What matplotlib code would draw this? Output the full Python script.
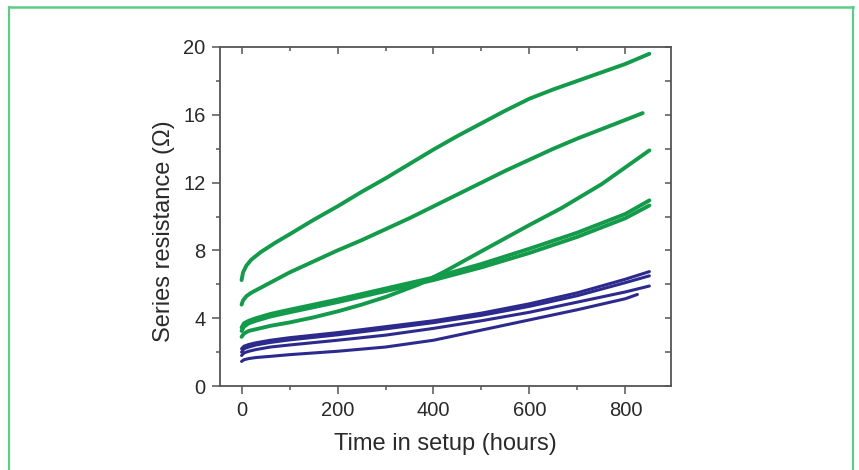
import matplotlib
matplotlib.use("Agg")
import matplotlib.pyplot as plt
from matplotlib.lines import Line2D
from matplotlib.ticker import MultipleLocator

plt.rcParams['font.family'] = ['Liberation Sans', 'DejaVu Sans']

# green curves
t_g1 = [0, 3, 10, 20, 40, 70, 100, 150, 200, 250, 300, 350, 400, 450, 500, 550, 600, 650, 700, 750, 800, 850]
r_g1 = [6.25, 6.7, 7.1, 7.45, 7.9, 8.45, 8.95, 9.8, 10.6, 11.45, 12.25, 13.1, 13.95, 14.75, 15.5, 16.25, 16.95, 17.5, 18.0, 18.5, 19.0, 19.6]

t_g2 = [0, 3, 10, 20, 40, 70, 100, 150, 200, 250, 300, 350, 400, 450, 500, 550, 600, 650, 700, 750, 800, 836]
r_g2 = [4.8, 5.05, 5.3, 5.5, 5.8, 6.25, 6.7, 7.35, 8.0, 8.6, 9.25, 9.9, 10.6, 11.3, 12.0, 12.7, 13.35, 14.0, 14.6, 15.15, 15.7, 16.1]

t_g3 = [0, 5, 15, 30, 60, 100, 150, 200, 250, 300, 370, 423, 500, 600, 667, 750, 850]
r_g3 = [2.9, 3.1, 3.25, 3.35, 3.55, 3.75, 4.05, 4.4, 4.8, 5.25, 6.0, 6.75, 7.95, 9.5, 10.5, 11.9, 13.9]

t_band = [0, 5, 15, 30, 60, 100, 150, 200, 300, 400, 500, 600, 700, 800, 850]
r_g4a = [3.45, 3.7, 3.85, 4.0, 4.25, 4.5, 4.8, 5.1, 5.75, 6.4, 7.2, 8.1, 9.05, 10.15, 10.95]
r_g4b = [3.25, 3.5, 3.7, 3.85, 4.1, 4.35, 4.65, 4.95, 5.6, 6.25, 7.0, 7.85, 8.8, 9.9, 10.65]

# blue curves
t_b = [0, 5, 15, 30, 60, 100, 150, 200, 300, 400, 500, 600, 700, 800, 850]
r_b1 = [2.2, 2.35, 2.45, 2.55, 2.7, 2.85, 3.0, 3.15, 3.5, 3.85, 4.3, 4.85, 5.5, 6.3, 6.75]
r_b2 = [2.0, 2.2, 2.3, 2.42, 2.57, 2.72, 2.87, 3.02, 3.37, 3.74, 4.17, 4.7, 5.33, 6.1, 6.5]
r_b3 = [1.8, 1.95, 2.05, 2.15, 2.3, 2.42, 2.56, 2.7, 3.0, 3.4, 3.85, 4.35, 4.95, 5.55, 5.9]
t_b4 = [0, 5, 15, 30, 60, 100, 150, 200, 300, 400, 500, 600, 700, 800, 825]
r_b4 = [1.45, 1.55, 1.62, 1.68, 1.75, 1.85, 1.95, 2.05, 2.3, 2.7, 3.3, 3.9, 4.5, 5.15, 5.4]

green = '#139a4a'
blue = '#2d2a8e'
frame = '#555555'
txt = '#2a2a2a'

fig = plt.figure(figsize=(8.59, 4.70), dpi=100)
fig.patch.set_facecolor('white')
ax = fig.add_axes([0.2561, 0.1787, 0.525, 0.7213])

for t, r in [(t_g1, r_g1), (t_g2, r_g2), (t_g3, r_g3), (t_band, r_g4a), (t_band, r_g4b)]:
    ax.plot(t, r, color=green, lw=2.8, solid_capstyle='round', solid_joinstyle='round')
for t, r in [(t_b, r_b1), (t_b, r_b2), (t_b, r_b3), (t_b4, r_b4)]:
    ax.plot(t, r, color=blue, lw=2.2, solid_capstyle='round', solid_joinstyle='round')

ax.set_xlim(-45, 895)
ax.set_ylim(0, 20)
ax.xaxis.set_major_locator(MultipleLocator(200))
ax.xaxis.set_minor_locator(MultipleLocator(100))
ax.yaxis.set_major_locator(MultipleLocator(4))
ax.yaxis.set_minor_locator(MultipleLocator(2))

for s in ax.spines.values():
    s.set_color(frame)
    s.set_linewidth(1.3)

ax.tick_params(which='major', direction='out', length=6, width=1.1, color=frame,
               labelsize=14.5, labelcolor=txt, pad=4.5)
ax.tick_params(which='minor', direction='out', length=3, width=1.1, color=frame)

# mirrored ticks pointing inward on top and right
sx = ax.secondary_xaxis('top')
sx.xaxis.set_major_locator(MultipleLocator(200))
sx.xaxis.set_minor_locator(MultipleLocator(100))
sx.tick_params(which='major', direction='in', length=5, width=1.1, color=frame, labeltop=False)
sx.tick_params(which='minor', direction='in', length=3, width=1.1, color=frame)
sx.spines['top'].set_visible(False)
sy = ax.secondary_yaxis('right')
sy.yaxis.set_major_locator(MultipleLocator(4))
sy.yaxis.set_minor_locator(MultipleLocator(2))
sy.tick_params(which='major', direction='in', length=4, width=1.1, color=frame, labelright=False)
sy.tick_params(which='minor', direction='in', length=4, width=1.1, color=frame)
sy.spines['right'].set_visible(False)

ax.set_xlabel('Time in setup (hours)', fontsize=17, color=txt, labelpad=10)
ax.set_ylabel('Series resistance (Ω)', fontsize=17, color=txt)
ax.yaxis.set_label_coords(-0.10, 0.457)

# green frame around the figure (open at the bottom)
bc = '#5fcb84'
fig.add_artist(Line2D([9 / 859, 9 / 859], [0, 1 - 6.5 / 470], color=bc, lw=1.6, transform=fig.transFigure))
fig.add_artist(Line2D([853 / 859, 853 / 859], [0, 1 - 6.5 / 470], color=bc, lw=1.6, transform=fig.transFigure))
fig.add_artist(Line2D([9 / 859, 853 / 859], [1 - 6.5 / 470, 1 - 6.5 / 470], color=bc, lw=1.8, transform=fig.transFigure))

fig.savefig('out.png', dpi=100)
